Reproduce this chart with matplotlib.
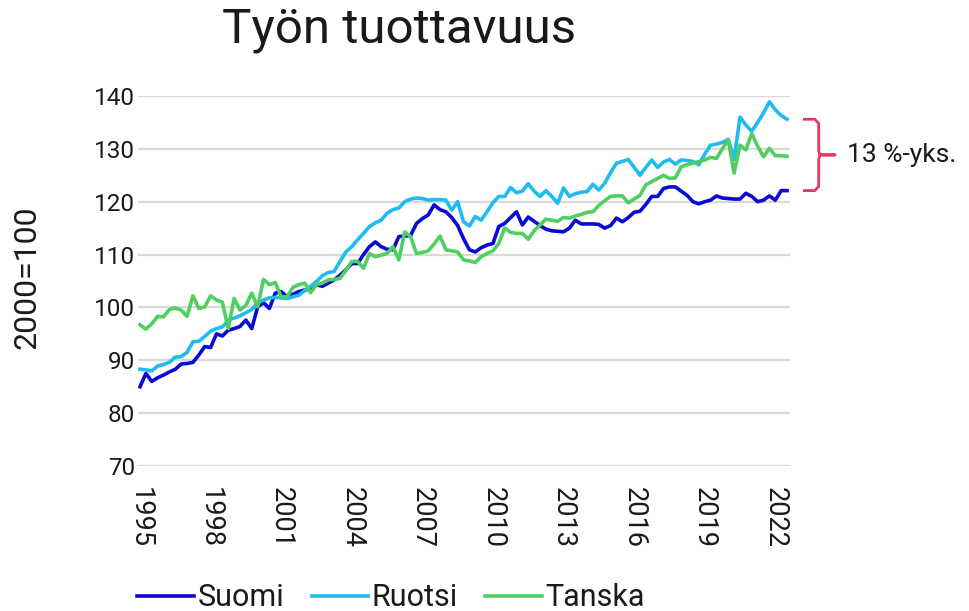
import numpy as np
import pandas as pd
import matplotlib
matplotlib.use("Agg")
import matplotlib.pyplot as plt
import matplotlib.transforms as mtransforms

plt.rcParams['font.family'] = ['Roboto', 'DejaVu Sans']

# Quarterly labour productivity, 2000=100 (1995Q1 - 2022Q3)
suomi = [85.0, 87.5, 86.0, 86.7, 87.2, 87.8, 88.3, 89.3, 89.4, 89.6, 91.0, 92.6,
         92.4, 95.0, 94.6, 95.7, 96.0, 96.4, 97.6, 96.0, 100.1, 100.9, 99.8, 102.7,
         103.0, 102.0, 102.5, 103.0, 103.3, 103.5, 104.3, 104.0, 104.6, 105.2, 106.1, 107.1,
         108.3, 108.3, 110.0, 111.5, 112.4, 111.5, 111.0, 110.9, 113.4, 113.5, 113.6, 115.9,
         116.8, 117.5, 119.4, 118.5, 118.1, 117.0, 115.5, 113.0, 110.9, 110.5, 111.3, 111.8,
         112.1, 115.3, 115.9, 117.0, 118.1, 115.6, 117.1, 116.3, 115.5, 114.8, 114.5, 114.4,
         114.3, 115.0, 116.5, 115.8, 115.8, 115.8, 115.7, 115.0, 115.5, 116.9, 116.2, 117.0,
         118.0, 118.2, 119.5, 121.0, 121.0, 122.5, 122.8, 122.8, 122.0, 121.2, 120.0, 119.6,
         120.0, 120.3, 121.1, 120.7, 120.6, 120.5, 120.5, 121.6, 121.0, 120.0, 120.3, 121.1,
         120.3, 122.1, 122.1]

ruotsi = [88.3, 88.2, 88.0, 88.9, 89.2, 89.6, 90.6, 90.7, 91.5, 93.5, 93.6, 94.5,
          95.5, 96.0, 96.3, 97.6, 98.0, 98.4, 99.0, 99.6, 100.9, 101.4, 101.8, 101.9,
          101.8, 101.7, 102.0, 102.3, 103.2, 104.0, 104.9, 106.0, 106.6, 106.8, 108.7, 110.5,
          111.5, 112.8, 114.0, 115.3, 116.0, 116.5, 117.8, 118.5, 118.8, 120.0, 120.5, 120.7,
          120.6, 120.3, 120.4, 120.4, 120.3, 118.4, 120.0, 116.2, 115.4, 117.2, 116.5, 118.1,
          119.8, 121.0, 121.0, 122.7, 121.7, 122.0, 123.4, 122.0, 121.0, 122.1, 121.0, 119.7,
          122.6, 121.0, 121.5, 121.8, 121.9, 123.3, 122.2, 123.5, 125.5, 127.3, 127.6, 128.0,
          126.5, 125.0, 126.5, 127.9, 126.5, 127.5, 128.0, 127.1, 127.9, 127.8, 127.6, 127.0,
          129.0, 130.7, 130.9, 131.2, 131.8, 128.0, 136.0, 134.5, 133.3, 135.0, 136.8, 138.9,
          137.4, 136.3, 135.6]

tanska = [96.7, 95.9, 96.9, 98.3, 98.2, 99.6, 99.9, 99.5, 98.3, 102.2, 99.8, 100.1,
          102.2, 101.4, 101.0, 96.0, 101.7, 99.5, 100.4, 102.7, 100.1, 105.3, 104.3, 104.7,
          102.0, 102.0, 103.8, 104.3, 104.6, 102.8, 104.3, 104.6, 105.2, 105.3, 105.5, 107.0,
          108.7, 108.7, 107.4, 110.2, 109.6, 109.9, 110.2, 111.5, 109.0, 114.3, 113.4, 110.2,
          110.4, 110.7, 112.0, 113.5, 110.9, 110.7, 110.5, 109.0, 108.8, 108.5, 109.6, 110.2,
          110.7, 112.1, 115.0, 114.2, 114.0, 114.0, 112.9, 114.5, 115.6, 116.7, 116.5, 116.3,
          117.0, 116.9, 117.3, 117.6, 118.0, 118.1, 119.3, 120.2, 121.0, 121.1, 121.1, 119.8,
          120.5, 121.2, 123.2, 123.8, 124.4, 125.0, 124.4, 124.5, 126.6, 127.0, 127.3, 127.6,
          127.9, 128.4, 128.2, 130.0, 131.7, 125.4, 130.7, 129.8, 132.9, 130.5, 128.5, 130.1,
          128.7, 128.7, 128.6]

quarters = pd.period_range('1995Q1', periods=len(suomi), freq='Q')
tick_years = [1995, 1998, 2001, 2004, 2007, 2010, 2013, 2016, 2019, 2022]
gap_label = '13 %-yks.'

text_color = '#1a1a1a'
brace_color = '#e23a64'

fig = plt.figure(figsize=(9.69, 6.11), dpi=100)
ax = fig.add_axes([138 / 969, 1 - 466 / 611, (790 - 138) / 969, (466 - 96) / 611])

x = np.arange(len(quarters))
ax.plot(x, suomi, color='#0a0ad2', lw=2.6, label='Suomi', zorder=3)
ax.plot(x, ruotsi, color='#1ebcf0', lw=2.6, label='Ruotsi', zorder=3)
ax.plot(x, tanska, color='#4fcf5f', lw=2.6, label='Tanska', zorder=3)

ax.set_ylim(70, 140)
ax.set_xlim(-0.34, 110.5)
ax.set_yticks(range(70, 141, 10))
ax.grid(axis='y', color='#d9d9d9', lw=1.6)
ax.set_axisbelow(True)
for s in ax.spines.values():
    s.set_visible(False)

tick_pos = [quarters.get_loc(pd.Period(f'{y}Q1', freq='Q')) for y in tick_years]
ax.set_xticks(tick_pos)
ax.set_xticklabels([str(y) for y in tick_years], rotation=270, fontsize=19.5,
                   color=text_color, ha='center', va='top')
ax.tick_params(axis='x', length=0, pad=15)
ax.tick_params(axis='y', length=0, pad=2, labelsize=17.5, labelcolor=text_color)

fig.text(399 / 969, 1 - 30 / 611, 'Työn tuottavuus', fontsize=35.5,
         ha='center', va='center', color=text_color)
fig.text(27 / 969, 1 - 277 / 611, '2000=100', fontsize=23, rotation=90,
         ha='center', va='center', color=text_color)

# brace showing the gap between Ruotsi and Suomi at the end
trans = mtransforms.blended_transform_factory(ax.transAxes, ax.transData)
top = ruotsi[-1]
bot = suomi[-1]
mid = (top + bot) / 2
x0, x1, x2 = 1.022, 1.044, 1.069
r = 0.8
bx = [x0, x1 - 0.006, x1, x1, x1 + 0.002, x2, x1 + 0.002, x1, x1, x1 - 0.006, x0]
by = [top, top, top - r, mid + r, mid, mid, mid, mid - r, bot + r, bot, bot]
ax.plot(bx, by, color=brace_color, lw=2, transform=trans, clip_on=False,
        solid_joinstyle='round')
ax.text(1.088, mid, gap_label, transform=trans, fontsize=19, color=text_color,
        ha='left', va='center')

fig.legend(loc='center left', bbox_to_anchor=(122 / 969, 1 - 598 / 611), ncol=3,
           frameon=False, fontsize=22, handlelength=1.85, handletextpad=0.12,
           columnspacing=0.9, borderpad=0, labelcolor=text_color)

fig.savefig('out.png', dpi=100)
